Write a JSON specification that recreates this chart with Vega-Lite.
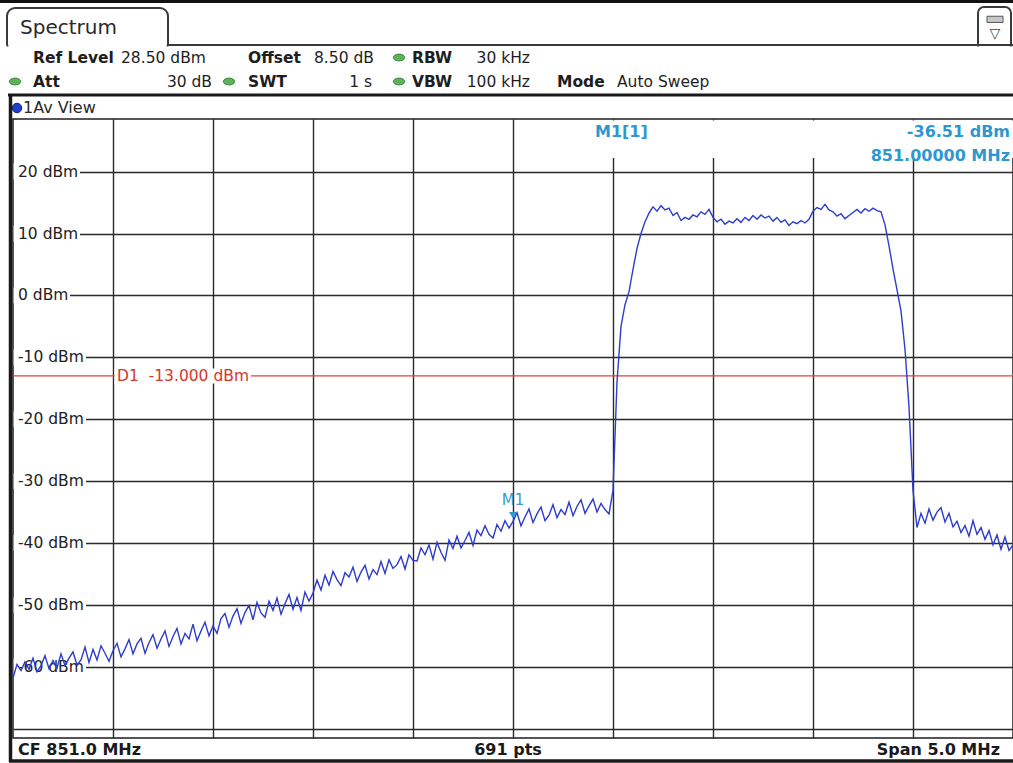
{
  "$schema": "https://vega.github.io/schema/vega-lite/v6.json",
  "width": 1000,
  "height": 619,
  "autosize": {"type": "none"},
  "padding": {"left": 13, "top": 119, "right": 0, "bottom": 25},
  "background": "white",
  "config": {"view": {"stroke": "#1e1e1e", "strokeWidth": 1.5}, "font": "DejaVu Sans", "text": {"font": "DejaVu Sans"}},
  "datasets": {
    "trace": [
      {"f":848.5,"p":-61.8},{"f":848.52,"p":-59.6},{"f":848.54,"p":-60.6},{"f":848.56,"p":-59.2},{"f":848.58,"p":-60.4},
      {"f":848.6,"p":-58.6},{"f":848.62,"p":-60.8},{"f":848.64,"p":-59.8},{"f":848.66,"p":-58.2},{"f":848.68,"p":-60.3},
      {"f":848.7,"p":-59.0},{"f":848.72,"p":-60.2},{"f":848.74,"p":-57.9},{"f":848.76,"p":-59.8},{"f":848.78,"p":-58.6},
      {"f":848.8,"p":-57.6},{"f":848.82,"p":-59.7},{"f":848.84,"p":-58.9},{"f":848.86,"p":-56.8},{"f":848.88,"p":-59.3},
      {"f":848.9,"p":-57.2},{"f":848.92,"p":-58.9},{"f":848.94,"p":-56.6},{"f":848.96,"p":-57.8},{"f":848.98,"p":-59.1},
      {"f":849.0,"p":-57.4},{"f":849.02,"p":-56.2},{"f":849.04,"p":-58.4},{"f":849.06,"p":-57.1},{"f":849.08,"p":-55.6},
      {"f":849.1,"p":-57.9},{"f":849.12,"p":-56.3},{"f":849.14,"p":-55.4},{"f":849.16,"p":-57.8},{"f":849.18,"p":-56.1},
      {"f":849.2,"p":-54.8},{"f":849.22,"p":-57.0},{"f":849.24,"p":-55.5},{"f":849.26,"p":-54.2},{"f":849.28,"p":-56.7},
      {"f":849.3,"p":-55.1},{"f":849.32,"p":-53.8},{"f":849.34,"p":-56.3},{"f":849.36,"p":-54.6},{"f":849.38,"p":-55.5},
      {"f":849.4,"p":-53.1},{"f":849.42,"p":-55.8},{"f":849.44,"p":-54.2},{"f":849.46,"p":-52.8},{"f":849.48,"p":-55.0},
      {"f":849.5,"p":-53.4},{"f":849.52,"p":-54.6},{"f":849.54,"p":-52.2},{"f":849.56,"p":-51.4},{"f":849.58,"p":-53.6},
      {"f":849.6,"p":-51.8},{"f":849.62,"p":-50.6},{"f":849.64,"p":-53.0},{"f":849.66,"p":-51.2},{"f":849.68,"p":-50.1},
      {"f":849.7,"p":-52.4},{"f":849.72,"p":-49.6},{"f":849.74,"p":-51.3},{"f":849.76,"p":-52.0},{"f":849.78,"p":-49.4},
      {"f":849.8,"p":-50.9},{"f":849.82,"p":-48.9},{"f":849.84,"p":-51.5},{"f":849.86,"p":-49.8},{"f":849.88,"p":-48.3},
      {"f":849.9,"p":-50.7},{"f":849.92,"p":-48.8},{"f":849.94,"p":-50.9},{"f":849.96,"p":-47.9},{"f":849.98,"p":-49.4},
      {"f":850.0,"p":-48.1},{"f":850.02,"p":-46.0},{"f":850.04,"p":-47.6},{"f":850.06,"p":-45.2},{"f":850.08,"p":-46.8},
      {"f":850.1,"p":-44.6},{"f":850.12,"p":-45.9},{"f":850.14,"p":-46.9},{"f":850.16,"p":-44.8},{"f":850.18,"p":-45.5},
      {"f":850.2,"p":-43.9},{"f":850.22,"p":-46.2},{"f":850.24,"p":-44.7},{"f":850.26,"p":-43.6},{"f":850.28,"p":-45.8},
      {"f":850.3,"p":-44.3},{"f":850.32,"p":-45.1},{"f":850.34,"p":-43.0},{"f":850.36,"p":-44.9},{"f":850.38,"p":-42.7},
      {"f":850.4,"p":-44.1},{"f":850.42,"p":-43.5},{"f":850.44,"p":-42.2},{"f":850.46,"p":-44.2},{"f":850.48,"p":-41.9},
      {"f":850.5,"p":-42.8},{"f":850.52,"p":-42.9},{"f":850.54,"p":-40.8},{"f":850.56,"p":-41.9},{"f":850.58,"p":-40.3},
      {"f":850.6,"p":-42.6},{"f":850.62,"p":-39.9},{"f":850.64,"p":-41.5},{"f":850.66,"p":-42.8},{"f":850.68,"p":-39.5},
      {"f":850.7,"p":-40.9},{"f":850.72,"p":-38.9},{"f":850.74,"p":-40.8},{"f":850.76,"p":-39.6},{"f":850.78,"p":-38.3},
      {"f":850.8,"p":-40.4},{"f":850.82,"p":-37.9},{"f":850.84,"p":-38.8},{"f":850.86,"p":-37.2},{"f":850.88,"p":-38.6},
      {"f":850.9,"p":-39.2},{"f":850.92,"p":-37.0},{"f":850.94,"p":-38.1},{"f":850.96,"p":-36.4},{"f":850.98,"p":-37.6},
      {"f":851.0,"p":-36.5},{"f":851.02,"p":-35.1},{"f":851.04,"p":-37.2},{"f":851.06,"p":-35.8},{"f":851.08,"p":-34.5},
      {"f":851.1,"p":-36.7},{"f":851.12,"p":-35.3},{"f":851.14,"p":-34.2},{"f":851.16,"p":-36.4},{"f":851.18,"p":-35.5},
      {"f":851.2,"p":-33.8},{"f":851.22,"p":-35.9},{"f":851.24,"p":-34.6},{"f":851.26,"p":-35.4},{"f":851.28,"p":-33.4},
      {"f":851.3,"p":-35.6},{"f":851.32,"p":-34.1},{"f":851.34,"p":-33.0},{"f":851.36,"p":-35.2},{"f":851.38,"p":-34.0},
      {"f":851.4,"p":-32.9},{"f":851.42,"p":-35.0},{"f":851.44,"p":-33.6},{"f":851.46,"p":-34.6},{"f":851.48,"p":-35.3},
      {"f":851.5,"p":-31.5},{"f":851.52,"p":-14.0},{"f":851.54,"p":-5.0},{"f":851.56,"p":-1.5},{"f":851.58,"p":0.6},
      {"f":851.6,"p":4.2},{"f":851.62,"p":7.6},{"f":851.64,"p":10.0},{"f":851.66,"p":11.9},{"f":851.68,"p":13.3},
      {"f":851.7,"p":14.3},{"f":851.72,"p":13.6},{"f":851.74,"p":14.5},{"f":851.76,"p":13.8},{"f":851.78,"p":14.1},
      {"f":851.8,"p":12.9},{"f":851.82,"p":13.4},{"f":851.84,"p":12.1},{"f":851.86,"p":12.6},{"f":851.88,"p":12.3},
      {"f":851.9,"p":13.0},{"f":851.92,"p":12.7},{"f":851.94,"p":13.5},{"f":851.96,"p":13.1},{"f":851.98,"p":13.9},
      {"f":852.0,"p":12.6},{"f":852.02,"p":11.9},{"f":852.04,"p":12.3},{"f":852.06,"p":11.5},{"f":852.08,"p":12.0},
      {"f":852.1,"p":11.7},{"f":852.12,"p":12.4},{"f":852.14,"p":11.8},{"f":852.16,"p":12.6},{"f":852.18,"p":12.1},
      {"f":852.2,"p":12.9},{"f":852.22,"p":12.3},{"f":852.24,"p":13.0},{"f":852.26,"p":12.5},{"f":852.28,"p":12.8},
      {"f":852.3,"p":12.0},{"f":852.32,"p":12.6},{"f":852.34,"p":11.8},{"f":852.36,"p":12.2},{"f":852.38,"p":11.3},
      {"f":852.4,"p":11.9},{"f":852.42,"p":11.6},{"f":852.44,"p":12.1},{"f":852.46,"p":11.7},{"f":852.48,"p":12.3},
      {"f":852.5,"p":13.6},{"f":852.52,"p":14.2},{"f":852.54,"p":13.9},{"f":852.56,"p":14.7},{"f":852.58,"p":13.8},
      {"f":852.6,"p":13.5},{"f":852.62,"p":12.8},{"f":852.64,"p":13.2},{"f":852.66,"p":12.4},{"f":852.68,"p":12.9},
      {"f":852.7,"p":13.4},{"f":852.72,"p":13.9},{"f":852.74,"p":13.3},{"f":852.76,"p":14.0},{"f":852.78,"p":13.6},
      {"f":852.8,"p":14.1},{"f":852.82,"p":13.7},{"f":852.84,"p":13.5},{"f":852.86,"p":11.4},{"f":852.88,"p":8.0},
      {"f":852.9,"p":4.3},{"f":852.92,"p":0.9},{"f":852.94,"p":-2.5},{"f":852.96,"p":-8.7},{"f":852.98,"p":-18.0},
      {"f":853.0,"p":-31.5},{"f":853.02,"p":-37.5},{"f":853.04,"p":-35.2},{"f":853.06,"p":-36.8},{"f":853.08,"p":-34.5},
      {"f":853.1,"p":-36.3},{"f":853.12,"p":-35.0},{"f":853.14,"p":-34.3},{"f":853.16,"p":-36.6},{"f":853.18,"p":-35.2},
      {"f":853.2,"p":-37.4},{"f":853.22,"p":-36.5},{"f":853.24,"p":-38.3},{"f":853.26,"p":-37.2},{"f":853.28,"p":-38.9},
      {"f":853.3,"p":-36.4},{"f":853.32,"p":-38.6},{"f":853.34,"p":-37.5},{"f":853.36,"p":-39.4},{"f":853.38,"p":-38.0},
      {"f":853.4,"p":-40.3},{"f":853.42,"p":-38.7},{"f":853.44,"p":-41.0},{"f":853.46,"p":-39.0},{"f":853.48,"p":-41.2},
      {"f":853.5,"p":-40.3}
    ],
    "levels": [
      {"level": 20, "label": "20 dBm"}, {"level": 10, "label": "10 dBm"}, {"level": 0, "label": "0 dBm"},
      {"level": -10, "label": "-10 dBm"}, {"level": -20, "label": "-20 dBm"}, {"level": -30, "label": "-30 dBm"},
      {"level": -40, "label": "-40 dBm"}, {"level": -50, "label": "-50 dBm"}, {"level": -60, "label": "-60 dBm"}
    ]
  },
  "layer": [
    {"data": {"values": [{}]}, "mark": {"type": "rule", "color": "#111", "strokeWidth": 3},
     "encoding": {"x": {"datum": 848.43}, "x2": {"datum": 853.5}, "y": {"datum": 47.48}}},
    {"data": {"values": [{}]}, "mark": {"type": "rect", "fill": "white", "stroke": "#3a3a3a", "strokeWidth": 2, "cornerRadius": 8},
     "encoding": {"x": {"datum": 848.47}, "x2": {"datum": 849.275}, "y": {"datum": 46.43}, "y2": {"datum": 39.32}}},
    {"data": {"values": [{}]}, "mark": {"type": "rect", "fill": "white", "stroke": "#3a3a3a", "strokeWidth": 2, "cornerRadius": 6},
     "encoding": {"x": {"datum": 853.325}, "x2": {"datum": 853.49}, "y": {"datum": 46.59}, "y2": {"datum": 39.32}}},
    {"data": {"values": [{}]}, "mark": {"type": "rect", "fill": "white", "strokeWidth": 0},
     "encoding": {"x": {"datum": 848.43}, "x2": {"datum": 853.5}, "y": {"datum": 40.21}, "y2": {"datum": 32.7}}},
    {"data": {"values": [{}]}, "mark": {"type": "rule", "color": "#3a3a3a", "strokeWidth": 2},
     "encoding": {"x": {"datum": 849.27}, "x2": {"datum": 853.5}, "y": {"datum": 40.455}}},
    {"data": {"values": [{}]}, "mark": {"type": "rect", "fill": "#c8c8c8", "stroke": "#555", "strokeWidth": 1},
     "encoding": {"x": {"datum": 853.37}, "x2": {"datum": 853.45}, "y": {"datum": 45.1}, "y2": {"datum": 44.1}}},
    {"data": {"values": [{"t": "▽"}]}, "mark": {"type": "text", "align": "center", "baseline": "middle", "fontSize": 14, "color": "#444"},
     "encoding": {"x": {"datum": 853.41}, "y": {"datum": 42.3}, "text": {"field": "t"}}},
    {"data": {"values": [{"t": "Spectrum"}]}, "mark": {"type": "text", "align": "left", "baseline": "middle", "fontSize": 20, "color": "#2a2a2a"},
     "encoding": {"x": {"datum": 848.535}, "y": {"datum": 43.2}, "text": {"field": "t"}}},
    {"data": {"values": [{"t": "Ref Level"}]}, "mark": {"type": "text", "align": "left", "baseline": "middle", "fontSize": 15.5, "fontWeight": "bold", "color": "#1e1e1e"},
     "encoding": {"x": {"datum": 848.6}, "y": {"datum": 38.435}, "text": {"field": "t"}}},
    {"data": {"values": [{"t": "28.50 dBm"}]}, "mark": {"type": "text", "align": "left", "baseline": "middle", "fontSize": 15.5, "color": "#1e1e1e"},
     "encoding": {"x": {"datum": 849.04}, "y": {"datum": 38.435}, "text": {"field": "t"}}},
    {"data": {"values": [{"t": "Offset"}]}, "mark": {"type": "text", "align": "left", "baseline": "middle", "fontSize": 15.5, "fontWeight": "bold", "color": "#1e1e1e"},
     "encoding": {"x": {"datum": 849.675}, "y": {"datum": 38.435}, "text": {"field": "t"}}},
    {"data": {"values": [{"t": "8.50 dB"}]}, "mark": {"type": "text", "align": "left", "baseline": "middle", "fontSize": 15.5, "color": "#1e1e1e"},
     "encoding": {"x": {"datum": 850.005}, "y": {"datum": 38.435}, "text": {"field": "t"}}},
    {"data": {"values": [{"t": "RBW"}]}, "mark": {"type": "text", "align": "left", "baseline": "middle", "fontSize": 15.5, "fontWeight": "bold", "color": "#1e1e1e"},
     "encoding": {"x": {"datum": 850.495}, "y": {"datum": 38.435}, "text": {"field": "t"}}},
    {"data": {"values": [{"t": "30 kHz"}]}, "mark": {"type": "text", "align": "right", "baseline": "middle", "fontSize": 15.5, "color": "#1e1e1e"},
     "encoding": {"x": {"datum": 851.085}, "y": {"datum": 38.435}, "text": {"field": "t"}}},
    {"data": {"values": [{"t": "Att"}]}, "mark": {"type": "text", "align": "left", "baseline": "middle", "fontSize": 15.5, "fontWeight": "bold", "color": "#1e1e1e"},
     "encoding": {"x": {"datum": 848.6}, "y": {"datum": 34.558}, "text": {"field": "t"}}},
    {"data": {"values": [{"t": "30 dB"}]}, "mark": {"type": "text", "align": "right", "baseline": "middle", "fontSize": 15.5, "color": "#1e1e1e"},
     "encoding": {"x": {"datum": 849.495}, "y": {"datum": 34.558}, "text": {"field": "t"}}},
    {"data": {"values": [{"t": "SWT"}]}, "mark": {"type": "text", "align": "left", "baseline": "middle", "fontSize": 15.5, "fontWeight": "bold", "color": "#1e1e1e"},
     "encoding": {"x": {"datum": 849.675}, "y": {"datum": 34.558}, "text": {"field": "t"}}},
    {"data": {"values": [{"t": "1 s"}]}, "mark": {"type": "text", "align": "right", "baseline": "middle", "fontSize": 15.5, "color": "#1e1e1e"},
     "encoding": {"x": {"datum": 850.295}, "y": {"datum": 34.558}, "text": {"field": "t"}}},
    {"data": {"values": [{"t": "VBW"}]}, "mark": {"type": "text", "align": "left", "baseline": "middle", "fontSize": 15.5, "fontWeight": "bold", "color": "#1e1e1e"},
     "encoding": {"x": {"datum": 850.495}, "y": {"datum": 34.558}, "text": {"field": "t"}}},
    {"data": {"values": [{"t": "100 kHz"}]}, "mark": {"type": "text", "align": "right", "baseline": "middle", "fontSize": 15.5, "color": "#1e1e1e"},
     "encoding": {"x": {"datum": 851.085}, "y": {"datum": 34.558}, "text": {"field": "t"}}},
    {"data": {"values": [{"t": "Mode"}]}, "mark": {"type": "text", "align": "left", "baseline": "middle", "fontSize": 15.5, "fontWeight": "bold", "color": "#1e1e1e"},
     "encoding": {"x": {"datum": 851.22}, "y": {"datum": 34.558}, "text": {"field": "t"}}},
    {"data": {"values": [{"t": "Auto Sweep"}]}, "mark": {"type": "text", "align": "left", "baseline": "middle", "fontSize": 15.5, "color": "#1e1e1e"},
     "encoding": {"x": {"datum": 851.52}, "y": {"datum": 34.558}, "text": {"field": "t"}}},
    {"data": {"values": [{}]}, "mark": {"type": "point", "shape": "M-1,0A1,0.6 0 1,0 1,0A1,0.6 0 1,0 -1,0Z", "size": 130, "filled": true, "fill": "#5cb35c", "stroke": "#3d8a3d", "strokeWidth": 1, "opacity": 1},
     "encoding": {"x": {"datum": 850.43}, "y": {"datum": 38.435}}},
    {"data": {"values": [{}]}, "mark": {"type": "point", "shape": "M-1,0A1,0.6 0 1,0 1,0A1,0.6 0 1,0 -1,0Z", "size": 130, "filled": true, "fill": "#5cb35c", "stroke": "#3d8a3d", "strokeWidth": 1, "opacity": 1},
     "encoding": {"x": {"datum": 848.51}, "y": {"datum": 34.558}}},
    {"data": {"values": [{}]}, "mark": {"type": "point", "shape": "M-1,0A1,0.6 0 1,0 1,0A1,0.6 0 1,0 -1,0Z", "size": 130, "filled": true, "fill": "#5cb35c", "stroke": "#3d8a3d", "strokeWidth": 1, "opacity": 1},
     "encoding": {"x": {"datum": 849.58}, "y": {"datum": 34.558}}},
    {"data": {"values": [{}]}, "mark": {"type": "point", "shape": "M-1,0A1,0.6 0 1,0 1,0A1,0.6 0 1,0 -1,0Z", "size": 130, "filled": true, "fill": "#5cb35c", "stroke": "#3d8a3d", "strokeWidth": 1, "opacity": 1},
     "encoding": {"x": {"datum": 850.43}, "y": {"datum": 34.558}}},
    {"data": {"values": [{}]}, "mark": {"type": "rule", "color": "#1a1a1a", "strokeWidth": 3},
     "encoding": {"x": {"datum": 848.475}, "x2": {"datum": 853.5}, "y": {"datum": 32.377}}},
    {"data": {"values": [{}]}, "mark": {"type": "rule", "color": "#1a1a1a", "strokeWidth": 3.5},
     "encoding": {"x": {"datum": 848.4875}, "y": {"datum": 32.38}, "y2": {"datum": -75.38}}},
    {"data": {"values": [{}]}, "mark": {"type": "rule", "color": "#1a1a1a", "strokeWidth": 3.5},
     "encoding": {"x": {"datum": 848.48}, "x2": {"datum": 853.5}, "y": {"datum": -75.21}}},
    {"data": {"values": [{}]}, "mark": {"type": "point", "shape": "circle", "size": 90, "filled": true, "fill": "#1f3fd0", "stroke": "#10206a", "strokeWidth": 1, "opacity": 1},
     "encoding": {"x": {"datum": 848.52}, "y": {"datum": 30.28}}},
    {"data": {"values": [{"t": "1Av View"}]}, "mark": {"type": "text", "align": "left", "baseline": "middle", "fontSize": 16, "color": "#2a2a2a"},
     "encoding": {"x": {"datum": 848.55}, "y": {"datum": 30.28}, "text": {"field": "t"}}},
    {"data": {"values": [{}]}, "mark": {"type": "rect", "fill": "white", "strokeWidth": 0},
     "encoding": {"x": {"datum": 851.235}, "x2": {"datum": 853.5}, "y": {"datum": 28.26}, "y2": {"datum": 22.2}}},
    {"data": {"name": "levels"}, "transform": [{"filter": "datum.level > 0"}], "mark": {"type": "rule", "color": "white", "strokeWidth": 16},
     "encoding": {"x": {"datum": 848.503}, "x2": {"datum": 848.835}, "y": {"field": "level", "type": "quantitative"}}},
    {"data": {"name": "levels"}, "transform": [{"filter": "datum.level == 0"}], "mark": {"type": "rule", "color": "white", "strokeWidth": 16},
     "encoding": {"x": {"datum": 848.503}, "x2": {"datum": 848.785}, "y": {"field": "level", "type": "quantitative"}}},
    {"data": {"name": "levels"}, "transform": [{"filter": "datum.level < 0"}], "mark": {"type": "rule", "color": "white", "strokeWidth": 16},
     "encoding": {"x": {"datum": 848.503}, "x2": {"datum": 848.865}, "y": {"field": "level", "type": "quantitative"}}},
    {"data": {"name": "levels"}, "mark": {"type": "text", "align": "left", "baseline": "middle", "dx": 5, "fontSize": 15.5, "color": "#222"},
     "encoding": {"x": {"datum": 848.5}, "y": {"field": "level", "type": "quantitative"}, "text": {"field": "label"}}},
    {"data": {"values": [{}]}, "mark": {"type": "rule", "color": "#e3413b", "strokeWidth": 1.2},
     "encoding": {"y": {"datum": -13}}},
    {"data": {"values": [{}]}, "mark": {"type": "rule", "color": "white", "strokeWidth": 15},
     "encoding": {"x": {"datum": 849.008}, "x2": {"datum": 849.69}, "y": {"datum": -13}}},
    {"data": {"values": [{"t": "D1\u00a0 -13.000 dBm"}]}, "mark": {"type": "text", "align": "left", "baseline": "middle", "fontSize": 15.5, "color": "#d8352e"},
     "encoding": {"x": {"datum": 849.02}, "y": {"datum": -13}, "text": {"field": "t"}}},
    {"data": {"name": "trace"}, "mark": {"type": "line", "color": "#2d3ccc", "strokeWidth": 1.4},
     "encoding": {
       "x": {"field": "f", "type": "quantitative", "scale": {"domain": [848.5, 853.5], "nice": false, "zero": false},
             "axis": {"values": [849, 849.5, 850, 850.5, 851, 851.5, 852, 852.5, 853], "grid": true, "gridColor": "#2a2a2a", "gridWidth": 1.4, "gridOpacity": 1, "labels": false, "ticks": false, "domain": false, "title": null}},
       "y": {"field": "p", "type": "quantitative", "scale": {"domain": [-71.5, 28.5], "nice": false, "zero": false},
             "axis": {"values": [-70, -60, -50, -40, -30, -20, -10, 0, 10, 20], "grid": true, "gridColor": "#2a2a2a", "gridWidth": 1.4, "gridOpacity": 1, "labels": false, "ticks": false, "domain": false, "title": null}}
     }},
    {"data": {"values": [{}]}, "mark": {"type": "point", "shape": "triangle-down", "size": 60, "filled": true, "color": "#2f97cf", "opacity": 1, "yOffset": -6},
     "encoding": {"x": {"datum": 851.0}, "y": {"datum": -36.51}}},
    {"data": {"values": [{"t": "M1"}]}, "mark": {"type": "text", "align": "center", "baseline": "middle", "fontSize": 15, "color": "#3a9cc8", "dy": -21},
     "encoding": {"x": {"datum": 851.0}, "y": {"datum": -36.51}, "text": {"field": "t"}}},
    {"data": {"values": [{"t": "M1[1]"}]}, "mark": {"type": "text", "align": "left", "baseline": "middle", "fontSize": 16, "fontWeight": "bold", "color": "#2f97cf"},
     "encoding": {"x": {"datum": 851.41}, "y": {"datum": 26.4}, "text": {"field": "t"}}},
    {"data": {"values": [{"t": "-36.51 dBm"}]}, "mark": {"type": "text", "align": "right", "baseline": "middle", "fontSize": 16, "fontWeight": "bold", "color": "#2f97cf"},
     "encoding": {"x": {"datum": 853.485}, "y": {"datum": 26.4}, "text": {"field": "t"}}},
    {"data": {"values": [{"t": "851.00000 MHz"}]}, "mark": {"type": "text", "align": "right", "baseline": "middle", "fontSize": 16, "fontWeight": "bold", "color": "#2f97cf"},
     "encoding": {"x": {"datum": 853.485}, "y": {"datum": 22.52}, "text": {"field": "t"}}},
    {"data": {"values": [{"t": "CF 851.0 MHz"}]}, "mark": {"type": "text", "align": "left", "baseline": "middle", "fontSize": 16, "fontWeight": "bold", "color": "#1a1a1a"},
     "encoding": {"x": {"datum": 848.525}, "y": {"datum": -73.44}, "text": {"field": "t"}}},
    {"data": {"values": [{"t": "691 pts"}]}, "mark": {"type": "text", "align": "center", "baseline": "middle", "fontSize": 16, "fontWeight": "bold", "color": "#1a1a1a"},
     "encoding": {"x": {"datum": 850.975}, "y": {"datum": -73.44}, "text": {"field": "t"}}},
    {"data": {"values": [{"t": "Span 5.0 MHz"}]}, "mark": {"type": "text", "align": "right", "baseline": "middle", "fontSize": 16, "fontWeight": "bold", "color": "#1a1a1a"},
     "encoding": {"x": {"datum": 853.435}, "y": {"datum": -73.44}, "text": {"field": "t"}}}
  ]
}
